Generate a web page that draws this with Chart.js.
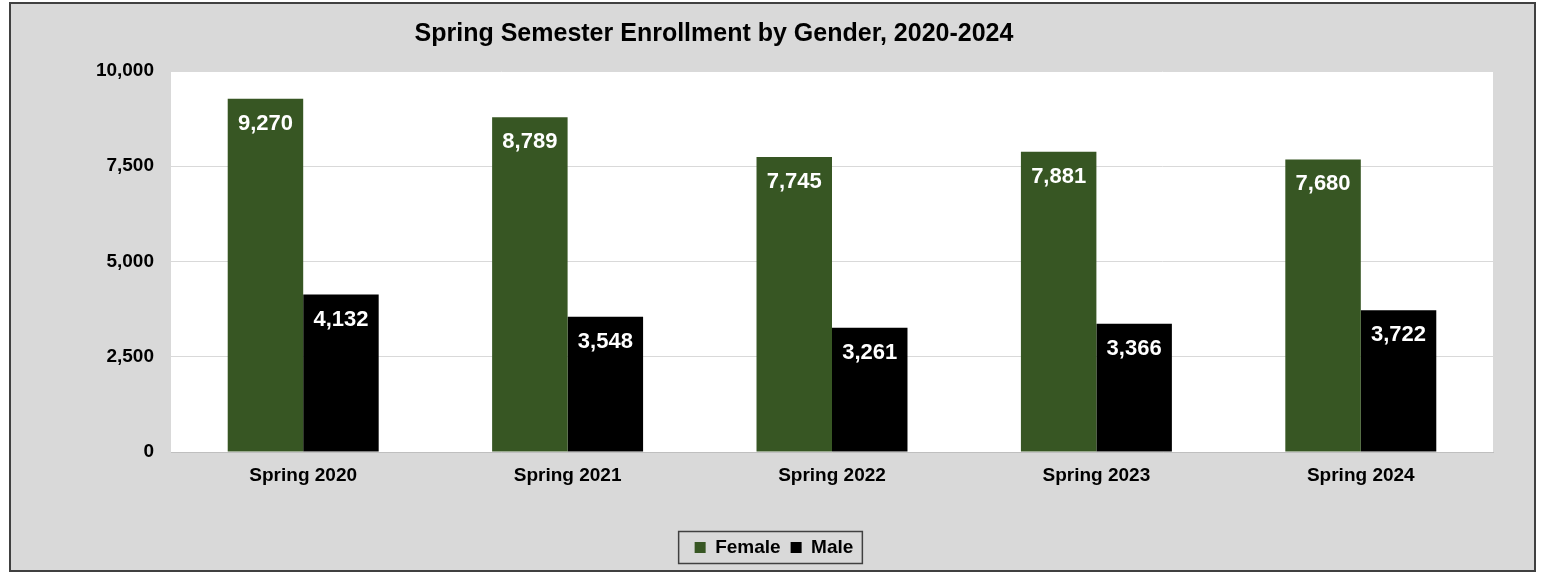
<!DOCTYPE html>
<html>
<head>
<meta charset="utf-8">
<script src="https://cdn.jsdelivr.net/npm/chart.js@4"></script>
<style>
  body { margin: 0; background: #ffffff; }
  #wrap { width: 1543px; height: 573px; }
</style>
</head>
<body>
<div id="wrap"><canvas id="enrollChart" width="1543" height="573"></canvas></div>
<script>
const semesters = ['Spring 2020', 'Spring 2021', 'Spring 2022', 'Spring 2023', 'Spring 2024'];
const female = [9270, 8789, 7745, 7881, 7680];
const male = [4132, 3548, 3261, 3366, 3722];
const yTicks = [0, 2500, 5000, 7500, 10000];
const chartTitle = 'Spring Semester Enrollment by Gender, 2020-2024';

const fmt = v => v.toLocaleString('en-US');
const FONT = '"Liberation Sans", Arial, sans-serif';

// gray panel with dark frame, plus title
const frame = {
    id: 'frame',
    afterLayout(chart) {
        // legend sits centred on the whole panel, not on the padded box
        const lg = chart.legend;
        if (lg) { lg.left += 22; lg.right += 22; }
    },
    beforeDraw(chart) {
        const c = chart.ctx;
        c.save();
        c.fillStyle = '#d9d9d9';
        c.fillRect(10, 3, 1525, 568);
        c.strokeStyle = '#404040';
        c.lineWidth = 2;
        c.strokeRect(10, 3, 1525, 568);
        const a = chart.chartArea;
        c.fillStyle = '#ffffff';
        c.fillRect(a.left, a.top, a.right - a.left, a.bottom - a.top);
        c.font = 'bold 25px ' + FONT;
        c.fillStyle = '#000000';
        c.textAlign = 'center';
        c.textBaseline = 'middle';
        c.fillText(chartTitle, 714, 34);
        c.restore();
    },
    afterDraw(chart) {
        // border round the legend
        const boxes = chart.legend.legendHitBoxes;
        if (!boxes || !boxes.length) return;
        let l = Infinity, r = -Infinity, t = Infinity, b = -Infinity;
        boxes.forEach(h => {
            l = Math.min(l, h.left); r = Math.max(r, h.left + h.width);
            t = Math.min(t, h.top); b = Math.max(b, h.top + h.height);
        });
        const mid = (t + b) / 2;
        const c = chart.ctx;
        c.save();
        c.strokeStyle = '#404040';
        c.lineWidth = 1.5;
        c.strokeRect(l - 16, mid - 16, (r - l) + 25, 32);
        c.restore();
    }
};

// white value labels inside the top of each bar
const barLabels = {
    id: 'barLabels',
    afterDatasetsDraw(chart) {
        const c = chart.ctx;
        c.save();
        c.font = 'bold 22px ' + FONT;
        c.fillStyle = '#ffffff';
        c.textAlign = 'center';
        c.textBaseline = 'middle';
        chart.data.datasets.forEach((ds, i) => {
            chart.getDatasetMeta(i).data.forEach((bar, j) => {
                c.fillText(fmt(ds.data[j]), bar.x, bar.y + 25);
            });
        });
        c.restore();
    }
};

function chart() {
    const ctx = document.getElementById('enrollChart').getContext('2d');
    return new Chart(ctx, {
        type: 'bar',
        data: {
            labels: semesters,
            datasets: [
                { label: 'Female', data: female, backgroundColor: '#375623' },
                { label: 'Male', data: male, backgroundColor: '#000000' }
            ]
        },
        plugins: [frame, barLabels],
        options: {
            responsive: false,
            animation: false,
            layout: { padding: { left: 11, right: 50, top: 71, bottom: 6 } },
            datasets: {
                bar: { categoryPercentage: 0.571, barPercentage: 1.0 }
            },
            plugins: {
                title: { display: false },
                tooltip: { enabled: false },
                legend: {
                    position: 'bottom',
                    labels: {
                        color: '#000000',
                        boxWidth: 11,
                        boxHeight: 11,
                        padding: 10,
                        font: { size: 19, weight: 'bold', family: FONT }
                    }
                }
            },
            scales: {
                x: {
                    grid: { display: false },
                    border: { color: '#bfbfbf' },
                    ticks: {
                        color: '#000000',
                        padding: 4,
                        font: { size: 19, weight: 'bold', family: FONT }
                    },
                    afterFit(scale) { scale.height = 76; }
                },
                y: {
                    min: 0,
                    max: 10000,
                    afterBuildTicks(scale) { scale.ticks = yTicks.map(v => ({ value: v })); },
                    grid: { color: '#d9d9d9', drawTicks: false },
                    border: { display: false },
                    ticks: {
                        color: '#000000',
                        padding: 17,
                        callback: v => fmt(v),
                        font: { size: 19, weight: 'bold', family: FONT }
                    },
                    afterFit(scale) { scale.width = 160; }
                }
            }
        }
    });
}

window.onload = function () {
    chart();
};
</script>
</body>
</html>
